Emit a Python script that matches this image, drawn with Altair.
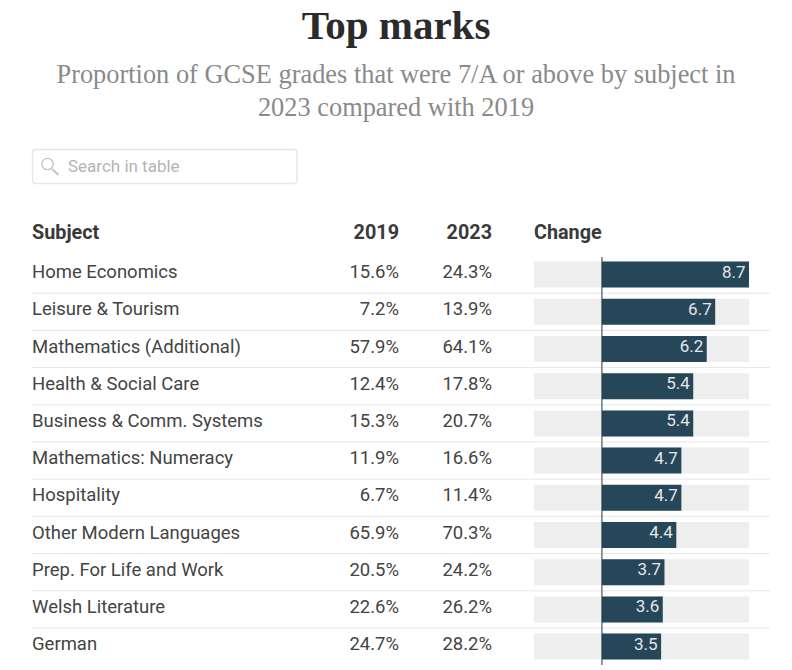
import altair as alt
import pandas as pd

subjects = ["Home Economics", "Leisure & Tourism", "Mathematics (Additional)", "Health & Social Care",
            "Business & Comm. Systems", "Mathematics: Numeracy", "Hospitality", "Other Modern Languages",
            "Prep. For Life and Work", "Welsh Literature", "German"]
y2019 = ["15.6%", "7.2%", "57.9%", "12.4%", "15.3%", "11.9%", "6.7%", "65.9%", "20.5%", "22.6%", "24.7%"]
y2023 = ["24.3%", "13.9%", "64.1%", "17.8%", "20.7%", "16.6%", "11.4%", "70.3%", "24.2%", "26.2%", "28.2%"]
change = [8.7, 6.7, 6.2, 5.4, 5.4, 4.7, 4.7, 4.4, 3.7, 3.6, 3.5]
bar_min = -4.02
bar_max = 8.7

df = pd.DataFrame({"subject": subjects, "y2019": y2019, "y2023": y2023, "change": change,
                   "bmin": [bar_min] * len(subjects), "bmax": [bar_max] * len(subjects)})
df["label"] = df["change"].map(lambda v: f"{v:.1f}")
rules_df = df.iloc[:-1]
one = pd.DataFrame({"k": [0]})

FONT = "Roboto"
TEXT = "#444444"

y = alt.Y("subject:N", sort=subjects, axis=None,
          scale=alt.Scale(paddingInner=0, paddingOuter=0))
xscale = alt.Scale(domain=[bar_min, bar_max], range=[526, 741], nice=False, zero=False)
x = alt.X("bmin:Q", scale=xscale, axis=None)

band = alt.Chart(df).mark_bar(color="#eeeeee", size=26).encode(x=x, x2="bmax:Q", y=y)
bars = alt.Chart(df).mark_bar(color="#26475a", size=26).encode(
    x=alt.X("zero:Q", scale=xscale, axis=None), x2="change:Q", y=y
).transform_calculate(zero="0")
zero_rule = alt.Chart(one).mark_rule(color="#26353f", strokeWidth=1).encode(
    x=alt.X("z:Q", scale=xscale, axis=None), y=alt.value(1), y2=alt.value(409)
).transform_calculate(z="0")
seps = alt.Chart(rules_df).mark_rule(color="#e6e6e6", strokeWidth=1).encode(
    x=alt.value(24), x2=alt.value(762), y=alt.Y("subject:N", sort=subjects, axis=None, bandPosition=1)
)
bar_labels = alt.Chart(df).mark_text(font=FONT, fontSize=17, color="#e6e6e6", align="right",
                                     baseline="middle", dx=-3.5, dy=-2).encode(
    x=alt.X("change:Q", scale=xscale, axis=None), y=y, text="label:N")


def col(field, xpos, align):
    return alt.Chart(df).mark_text(font=FONT, fontSize=18.5, color=TEXT, align=align,
                                   baseline="middle", dy=-2.3).encode(
        x=alt.value(xpos), y=y, text=f"{field}:N")


def head(label, xpos, align):
    return alt.Chart(one).mark_text(font=FONT, fontSize=19.8, fontWeight=700, color="#3a3a3a",
                                    align=align, baseline="middle").encode(
        x=alt.value(xpos), y=alt.value(-23), text=alt.value(label))


search_box = alt.Chart(one).mark_rect(fill="#ffffff", stroke="#e6e6e6", strokeWidth=1.4, cornerRadius=3).encode(
    x=alt.value(24.5), x2=alt.value(289), y=alt.value(-106.5), y2=alt.value(-72.5))
search_text = alt.Chart(one).mark_text(font=FONT, fontSize=17, color="#b4b4b4", align="left",
                                       baseline="middle").encode(
    x=alt.value(60), y=alt.value(-89), text=alt.value("Search in table"))
lens = alt.Chart(one).mark_point(shape="circle", size=130, stroke="#c4c4c4", strokeWidth=1.3, fill=None, opacity=1).encode(
    x=alt.value(39.5), y=alt.value(-92))
handle = alt.Chart(one).mark_rule(stroke="#c4c4c4", strokeWidth=2).encode(
    x=alt.value(44), x2=alt.value(50.5), y=alt.value(-87), y2=alt.value(-81))

chart = alt.layer(
    band, seps, bars, zero_rule, bar_labels,
    col("subject", 24, "left"), col("y2019", 391, "right"), col("y2023", 484, "right"),
    head("Subject", 24, "left"), head("2019", 391, "right"), head("2023", 484, "right"), head("Change", 526, "left"),
    search_box, lens, handle, search_text,
).properties(
    width=776, height=409.2,
    padding={"left": 0, "top": 248, "right": 0, "bottom": 0},
    autosize=alt.AutoSizeParams(type="none"),
    title=alt.TitleParams(
        text="Top marks",
        subtitle=["Proportion of GCSE grades that were 7/A or above by subject in", "2023 compared with 2019"],
        anchor="middle", font="Liberation Serif", fontSize=41, fontWeight=700, color="#2b2b2b",
        subtitleFont="Liberation Serif", subtitleFontSize=26.4, subtitleColor="#8a8a8a",
        subtitleLineHeight=33, subtitlePadding=14, offset=26,
    ),
).configure_view(stroke=None)

chart.save("out.html", embed_options={"renderer": "svg", "actions": False})
